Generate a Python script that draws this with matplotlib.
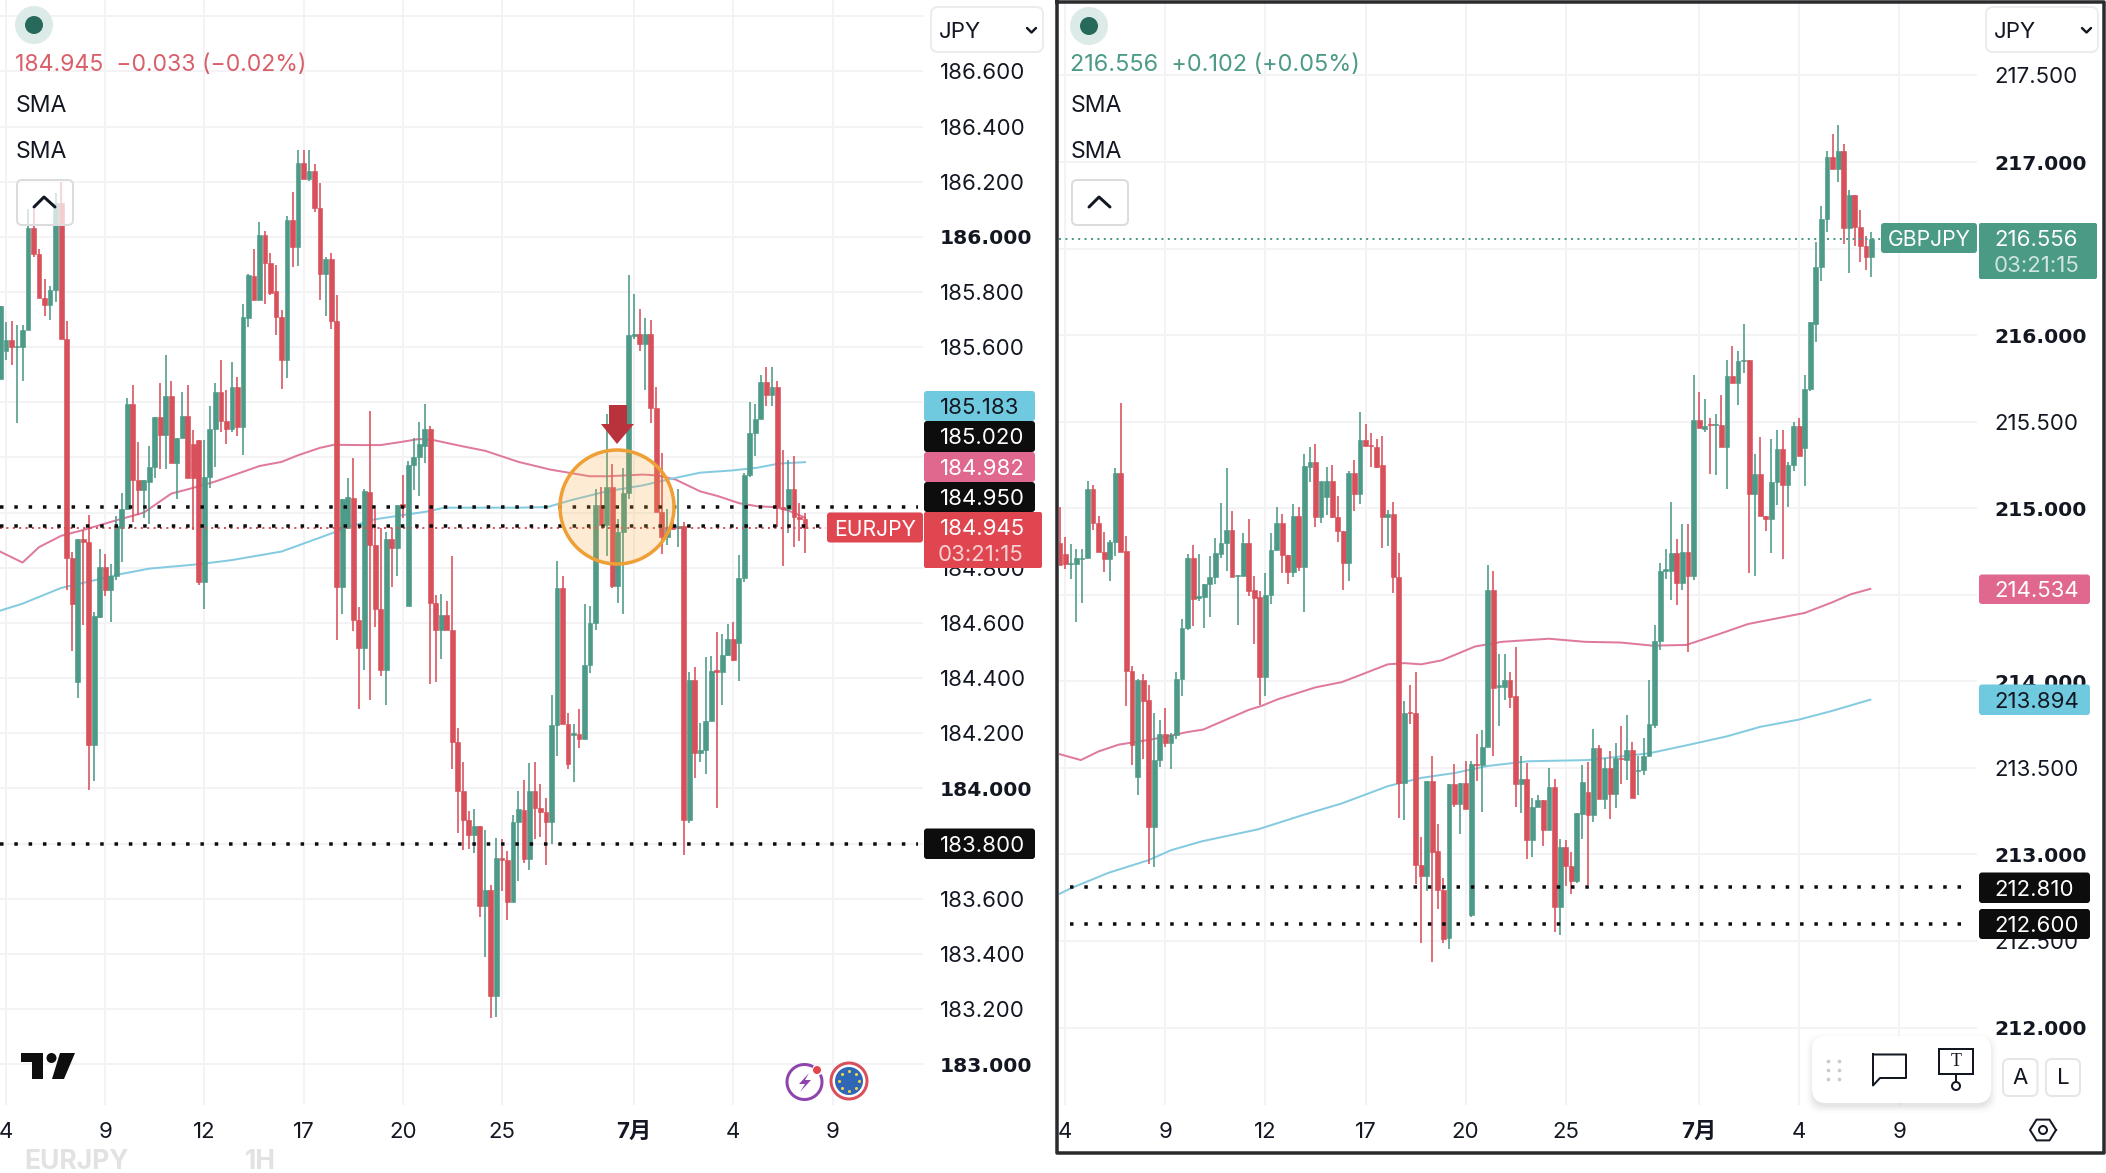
import matplotlib
matplotlib.use("Agg")
import matplotlib.pyplot as plt
from matplotlib.patches import Circle, FancyBboxPatch, Polygon, Rectangle
import numpy as np

plt.rcParams['font.family'] = ['Inter', 'Noto Sans CJK JP', 'DejaVu Sans']

W, H = 2106, 1173

GREEN = '#4c9a87'
RED = '#d8505a'
SMA_PINK = '#df7a9e'
SMA_BLUE = '#85cbe0'
TEXT = '#131722'
GRID = '#f3f3f5'
FS = 16

# EURJPY candles
eur_open = [185.485, 185.585, 185.627, 185.600, 185.602, 185.663, 186.033, 185.936, 185.777, 185.753,
            185.808, 186.121, 185.628, 184.836, 184.385, 184.903, 184.895, 184.156, 184.623, 184.802,
            184.719, 184.769, 184.945, 185.013, 185.395, 185.117, 185.083, 185.110, 185.166, 185.346,
            185.281, 185.423, 185.180, 185.270, 185.350, 185.249, 185.263, 184.750, 185.131, 185.305,
            185.437, 185.333, 185.305, 185.455, 185.312, 185.707, 185.857, 185.772, 186.006, 185.904,
            185.802, 185.710, 185.555, 186.061, 185.964, 186.266, 186.211, 186.237, 186.103, 185.867,
            185.918, 185.696, 184.732, 184.944, 185.052, 184.610, 184.509, 185.076, 184.883, 184.652,
            184.428, 184.903, 184.872, 185.030, 184.662, 185.173, 185.201, 185.242, 185.305, 184.673,
            184.576, 184.629, 184.576, 184.167, 183.991, 183.884, 183.832, 183.863, 183.575, 183.633,
            183.249, 183.747, 183.739, 183.588, 183.879,
            183.923, 183.744, 183.991, 183.930, 183.916, 183.880, 184.229, 184.726, 184.232, 184.195,
            184.196, 184.181, 184.447, 184.600, 185.027, 184.956, 185.092, 184.733, 184.931, 185.073,
            185.642, 185.648, 185.612, 185.648, 185.381, 185.003, 184.913, 184.948, 184.945, 184.950,
            183.885, 184.394, 184.128, 184.138, 184.246, 184.428, 184.422, 184.485, 184.543, 184.528,
            184.762, 185.138, 185.290, 185.340, 185.472, 185.426, 185.454, 185.020, 185.013, 185.087,
            184.984, 184.977]
eur_high = [185.750, 185.693, 185.696, 185.680, 185.680, 186.100, 186.100, 185.957, 185.846, 185.821,
            186.158, 186.200, 185.696, 184.856, 184.906, 184.937, 184.990, 184.638, 184.867, 184.851,
            184.813, 184.987, 185.070, 185.416, 185.464, 185.256, 185.117, 185.242, 185.346, 185.471,
            185.571, 185.478, 185.270, 185.437, 185.464, 185.298, 185.263, 185.263, 185.388, 185.471,
            185.554, 185.444, 185.548, 185.492, 185.756, 185.867, 185.957, 186.054, 186.022, 185.943,
            185.899, 185.735, 186.075, 186.161, 186.315, 186.314, 186.314, 186.265, 186.196, 185.926,
            185.943, 185.790, 185.048, 185.127, 185.197, 184.657, 185.086, 185.367, 185.012, 184.945,
            184.929, 184.945, 185.027, 185.138, 185.187, 185.270, 185.328, 185.395, 185.314, 184.700,
            184.704, 184.680, 184.844, 184.218, 184.097, 183.918, 183.926, 183.863, 183.851, 183.649,
            183.820, 183.817, 183.773, 183.902, 183.991,
            184.031, 184.091, 184.095, 184.017, 183.966, 184.339, 184.824, 184.769, 184.275, 184.232,
            184.289, 184.669, 184.662, 185.085, 185.092, 185.357, 185.178, 184.977, 185.163, 185.863,
            185.791, 185.740, 185.705, 185.697, 185.457, 185.218, 185.013, 184.970, 185.085, 184.966,
            184.421, 184.439, 184.239, 184.475, 184.482, 184.568, 184.561, 184.597, 184.604, 184.848,
            185.142, 185.400, 185.393, 185.500, 185.529, 185.529, 185.479, 185.228, 185.192, 185.206,
            185.034, 185.000]
eur_low = [185.485, 185.555, 185.534, 185.325, 185.478, 185.663, 185.926, 185.777, 185.714, 185.700,
           185.763, 185.628, 184.720, 184.498, 184.327, 184.592, 183.996, 184.027, 184.618, 184.696,
           184.602, 184.755, 184.820, 185.013, 184.965, 184.993, 184.979, 184.958, 185.124, 185.159,
           185.159, 185.180, 185.048, 185.270, 185.127, 184.937, 184.738, 184.652, 185.090, 185.166,
           185.291, 185.249, 185.291, 185.277, 185.208, 185.673, 185.772, 185.772, 185.756, 185.790,
           185.645, 185.450, 185.488, 185.892, 185.895, 186.211, 186.204, 186.089, 185.770, 185.714,
           185.666, 184.540, 184.634, 184.944, 184.571, 184.287, 184.428, 184.322, 184.584, 184.408,
           184.302, 184.732, 184.769, 184.981, 184.662, 185.083, 185.062, 185.180, 184.380, 184.385,
           184.470, 184.576, 184.069, 183.840, 183.778, 183.782, 183.767, 183.533, 183.389, 183.166,
           183.171, 183.627, 183.524, 183.588, 183.664,
           183.730, 183.704, 183.816, 183.823, 183.722, 183.797, 184.117, 184.232, 184.071, 184.024,
           184.146, 184.181, 184.418, 184.576, 184.956, 184.841, 184.726, 184.672, 184.633, 185.049,
           185.630, 185.586, 185.443, 185.324, 185.003, 184.851, 184.884, 184.941, 184.877, 183.758,
           183.873, 184.038, 184.095, 184.052, 184.246, 183.928, 184.303, 184.482, 184.461, 184.389,
           184.748, 185.128, 185.206, 185.340, 185.386, 185.386, 184.948, 184.808, 184.927, 184.874,
           184.898, 184.855]
eur_close = [185.750, 185.627, 185.602, 185.603, 185.663, 186.033, 185.936, 185.777, 185.753, 185.808,
             186.121, 185.628, 184.836, 184.668, 184.903, 184.895, 184.156, 184.626, 184.802, 184.719,
             184.769, 184.950, 185.015, 185.395, 185.117, 185.083, 185.117, 185.166, 185.346, 185.281,
             185.423, 185.180, 185.270, 185.350, 185.127, 185.127, 184.750, 185.131, 185.305, 185.437,
             185.333, 185.305, 185.455, 185.312, 185.710, 185.860, 185.772, 186.006, 185.904, 185.797,
             185.710, 185.555, 186.061, 185.964, 186.266, 186.211, 186.237, 186.103, 185.867, 185.918,
             185.696, 184.732, 185.048, 185.055, 184.610, 184.509, 185.079, 184.883, 184.652, 184.428,
             184.903, 184.872, 185.027, 185.020, 185.173, 185.201, 185.249, 185.305, 184.673, 184.576,
             184.629, 184.576, 184.167, 183.991, 183.884, 183.832, 183.863, 183.575, 183.633, 183.249,
             183.747, 183.739, 183.588, 183.879, 183.926,
             183.744, 183.991, 183.930, 183.916, 183.880, 184.229, 184.726, 184.232, 184.088, 184.200,
             184.181, 184.447, 184.600, 185.027, 184.956, 185.092, 184.733, 184.931, 185.073, 185.644,
             185.648, 185.612, 185.648, 185.381, 185.003, 184.913, 184.948, 184.941, 184.950, 183.885,
             184.394, 184.128, 184.138, 184.246, 184.425, 184.424, 184.485, 184.543, 184.465, 184.762,
             185.138, 185.290, 185.340, 185.472, 185.426, 185.454, 185.020, 185.013, 185.087, 184.984,
             184.977, 184.945]

# EURJPY moving averages, bar number and level
eur_pink_x = [0, 4, 7, 11, 15, 21, 26, 31, 35, 39, 47, 51, 54, 58, 60.5, 65, 69, 72.6, 76, 78.6, 83.5, 88, 94,
              99.8, 106.9, 110.2, 116.6, 119.2, 122.5, 127, 130.2, 134.1, 137.4, 140.6, 143.2, 146]
eur_pink = [184.858, 184.819, 184.875, 184.916, 184.937, 184.972, 185.000, 185.069, 185.090, 185.113, 185.169,
            185.184, 185.208, 185.235, 185.246, 185.245, 185.245, 185.256, 185.267, 185.263, 185.242, 185.224,
            185.184, 185.156, 185.132, 185.132, 185.138, 185.135, 185.120, 185.077, 185.060, 185.034, 185.023,
            185.020, 185.006, 184.982]
eur_blue_x = [0, 4, 11, 16, 22, 27, 36, 42, 51, 57.5, 63.5, 68, 72, 77.4, 80.5, 94, 99.2,
              103.7, 110, 116.6, 121.8, 127, 132.8, 137.4, 141.3, 146]
eur_blue = [184.645, 184.670, 184.727, 184.750, 184.778, 184.797, 184.813, 184.828, 184.859, 184.906, 184.950,
            184.976, 184.988, 185.004, 185.018, 185.018, 185.020, 185.046, 185.077, 185.099, 185.123, 185.145,
            185.153, 185.163, 185.178, 185.183]

# GBPJPY candles
gbp_open = [214.799, 214.735, 214.678, 214.678, 214.708, 214.710, 215.110, 214.916, 214.749, 214.708,
            214.806, 215.206, 214.754, 214.057, 213.447, 214.007, 213.892, 213.161, 213.543, 213.698,
            213.646, 213.687, 214.013, 214.308, 214.710, 214.484, 214.486, 214.560, 214.605, 214.738,
            214.801, 214.875, 214.607, 214.607, 214.801, 214.525, 214.486, 214.025, 214.498, 214.756,
            214.916, 214.731, 214.630, 214.955, 214.658, 215.240, 215.267, 214.948, 215.062, 215.160,
            214.948, 214.870, 214.685, 215.206, 215.080, 215.393, 215.366, 215.354, 215.247, 214.948,
            214.966, 214.605, 213.413, 213.824, 213.817, 212.940, 212.876, 213.424, 213.018, 212.796,
            212.515, 213.406, 213.294, 213.413, 212.652, 213.524, 213.515, 213.618, 214.527, 213.968,
            213.968, 214.007, 213.915, 213.406, 213.435, 213.086, 213.271, 213.317, 213.139, 213.390,
            212.698, 213.040, 212.933,
            212.846, 213.233, 213.360, 213.227, 213.616, 213.319, 213.498, 213.349, 213.555, 213.543,
            213.606, 213.482, 213.488, 213.570, 213.747,
            214.233, 214.640, 214.640, 214.742, 214.567, 214.747, 214.610, 215.512, 215.457, 215.485,
            215.478, 215.480, 215.352, 215.764, 215.725, 215.850, 215.859, 215.081, 215.195, 214.955,
            214.937, 215.149, 215.343, 215.135, 215.252, 215.473, 215.348, 215.686, 216.067, 216.392,
            216.668, 217.027, 216.958, 217.061, 216.620, 216.810, 216.622, 216.517, 216.451]
gbp_high = [215.007, 214.836, 214.795, 214.765, 214.765, 215.160, 215.133, 214.955, 214.863, 214.818,
            215.233, 215.606, 214.840, 214.087, 214.013, 214.041, 213.977, 213.817, 213.778, 213.847,
            213.703, 214.052, 214.361, 214.733, 214.788, 214.738, 214.562, 214.722, 214.829, 215.028,
            215.233, 214.984, 214.616, 214.858, 214.936, 214.607, 214.520, 214.623, 214.858, 215.005,
            214.966, 214.731, 215.023, 215.007, 215.315, 215.354, 215.370, 215.080, 215.240, 215.247,
            215.069, 214.870, 215.217, 215.281, 215.555, 215.485, 215.434, 215.400, 215.418, 214.989,
            215.035, 214.742, 213.886, 213.977, 214.052, 213.100, 213.424, 213.566, 213.173, 212.864,
            213.406, 213.520, 213.413, 213.538, 213.538, 213.698, 213.717, 214.674, 214.639, 214.155,
            214.160, 214.052, 214.201, 213.566, 213.527, 213.326, 213.344, 213.317, 213.497, 213.436,
            213.088, 213.086, 213.013,
            213.237, 213.514, 213.533, 213.722, 213.630, 213.559, 213.600, 213.641, 213.743, 213.808,
            213.651, 213.570, 213.671, 214.008, 214.323,
            214.685, 214.765, 215.033, 214.822, 214.909, 214.909, 215.770, 215.672, 215.633, 215.520,
            215.542, 215.656, 215.855, 215.937, 215.907, 216.067, 215.859, 215.314, 215.412, 214.955,
            215.398, 215.451, 215.451, 215.268, 215.500, 215.519, 215.770, 216.074, 216.536, 216.746,
            217.061, 217.159, 217.216, 217.102, 216.837, 216.810, 216.725, 216.570, 216.597]
gbp_low = [214.669, 214.651, 214.589, 214.345, 214.452, 214.710, 214.875, 214.749, 214.630, 214.582,
           214.726, 214.749, 213.858, 213.515, 213.344, 213.550, 212.944, 212.926, 213.504, 213.618,
           213.493, 213.664, 213.915, 214.299, 214.320, 214.463, 214.308, 214.372, 214.560, 214.715,
           214.635, 214.600, 214.326, 214.607, 214.493, 214.217, 213.865, 213.915, 214.445, 214.756,
           214.623, 214.560, 214.600, 214.635, 214.400, 215.153, 214.891, 214.913, 214.959, 214.943,
           214.806, 214.525, 214.578, 214.982, 215.023, 215.359, 215.240, 215.233, 214.772, 214.783,
           214.509, 213.212, 213.196, 213.751, 212.830, 212.487, 212.789, 212.380, 212.682, 212.487,
           212.453, 213.276, 213.116, 213.260, 212.636, 213.424, 213.246, 213.618, 213.568, 213.744,
           213.892, 213.847, 213.276, 213.241, 212.974, 212.985, 213.271, 213.047, 213.139, 212.551,
           212.533, 212.819, 212.773,
           212.836, 213.087, 212.826, 213.188, 213.319, 213.264, 213.207, 213.270, 213.406, 213.427,
           213.325, 213.345, 213.461, 213.570, 213.732,
           214.183, 214.589, 214.468, 214.439, 214.525, 214.171, 214.587, 215.462, 215.439, 215.195,
           215.192, 215.352, 215.112, 215.725, 215.599, 215.782, 214.628, 214.610, 214.955, 214.868,
           214.742, 215.017, 214.708, 215.005, 215.215, 215.302, 215.131, 215.679, 215.960, 216.314,
           216.597, 216.958, 216.883, 216.529, 216.357, 216.517, 216.421, 216.376, 216.337]
gbp_close = [214.669, 214.680, 214.685, 214.710, 214.712, 215.110, 214.913, 214.749, 214.708, 214.806,
             215.206, 214.749, 214.057, 213.630, 214.007, 213.886, 213.161, 213.543, 213.698, 213.646,
             213.687, 214.013, 214.310, 214.710, 214.475, 214.491, 214.562, 214.605, 214.742, 214.801,
             214.875, 214.600, 214.616, 214.801, 214.521, 214.482, 214.025, 214.498, 214.756, 214.916,
             214.731, 214.630, 214.955, 214.658, 215.245, 215.267, 214.948, 215.160, 215.160, 214.948,
             214.870, 214.685, 215.206, 215.080, 215.395, 215.359, 215.359, 215.240, 214.948, 214.966,
             214.605, 213.413, 213.817, 213.817, 212.940, 212.876, 213.424, 213.013, 212.796, 212.510,
             213.406, 213.294, 213.413, 213.260, 213.520, 213.515, 213.618, 214.527, 213.961, 213.977,
             214.007, 213.911, 213.406, 213.435, 213.086, 213.271, 213.317, 213.139, 213.390, 212.698,
             213.040, 212.933, 212.848,
             213.237, 213.417, 213.227, 213.616, 213.319, 213.498, 213.349, 213.555, 213.549, 213.606,
             213.325, 213.488, 213.570, 213.751, 214.232,
             214.640, 214.647, 214.742, 214.567, 214.747, 214.610, 215.512, 215.462, 215.473, 215.478,
             215.485, 215.352, 215.764, 215.725, 215.850, 215.859, 215.081, 215.195, 214.955, 214.937,
             215.149, 215.343, 215.135, 215.252, 215.473, 215.302, 215.686, 216.074, 216.392, 216.668,
             217.027, 216.958, 217.061, 216.620, 216.810, 216.622, 216.517, 216.451, 216.556]

# GBPJPY moving averages, bar number and level
gbp_pink_x = [0, 3.8, 7, 10.6, 16.5, 23, 25.8, 34, 36.3, 39.3, 46, 50.7, 53, 59, 62, 65, 68.7, 74.7, 79.5, 88,
              94.5, 100.9, 106.6, 112.7, 118.7, 123.8, 134, 139, 142.3, 145.8]
gbp_pink = [213.579, 213.545, 213.595, 213.634, 213.664, 213.707, 213.721, 213.835, 213.858, 213.897, 213.965,
            213.995, 214.023, 214.098, 214.105, 214.098, 214.121, 214.201, 214.228, 214.246, 214.228, 214.224,
            214.206, 214.210, 214.274, 214.331, 214.395, 214.457, 214.503, 214.534]
gbp_blue_x = [0, 2.2, 8.8, 16, 20, 25.5, 35.7, 44, 50.7, 59, 65, 71, 77, 84.3, 95, 106, 113.7, 120, 126, 133,
              138.8, 145.8]
gbp_blue = [212.773, 212.807, 212.894, 212.967, 213.024, 213.075, 213.145, 213.230, 213.294, 213.394, 213.442,
            213.470, 213.511, 213.538, 213.545, 213.584, 213.637, 213.682, 213.737, 213.779, 213.828, 213.894]

# axis ticks, the same bar numbers on both charts
date_bars = [1, 19, 37, 55, 73, 91, 115, 133, 151]
date_labels = ['4', '9', '12', '17', '20', '25', '7月', '4', '9']
eur_ticks = [183.0, 183.2, 183.4, 183.6, 183.8, 184.0, 184.2, 184.4, 184.6, 184.8, 185.0, 185.2, 185.4,
             185.6, 185.8, 186.0, 186.2, 186.4, 186.6, 186.8]
gbp_ticks = [212.0, 212.5, 213.0, 213.5, 214.0, 214.5, 215.0, 215.5, 216.0, 216.5, 217.0, 217.5]
eur_bold = [183.0, 184.0, 186.0]
gbp_bold = [212.0, 213.0, 214.0, 215.0, 216.0, 217.0]
# grid levels whose price text sits under a tag or the currency box
eur_unlabelled = [183.8, 185.0, 185.2, 185.4, 186.8]
gbp_unlabelled = [214.5, 216.5]

eur_levels = [185.02, 184.95, 183.80]
gbp_levels = [212.81, 212.60]
eur_last = 184.945
gbp_last = 216.556


def px(v):
    return v * 72 / 100


fig = plt.figure(figsize=(W / 100, H / 100), dpi=100, facecolor='white')


def make_axes(x0, x1, y0, y1):
    return fig.add_axes([x0 / W, 1 - y1 / H, (x1 - x0) / W, (y1 - y0) / H])


def draw_chart(ax, opens, highs, lows, closes, bar_px, ticks, bold, unlabelled, levels, level_span, tick_pad):
    opens, highs, lows, closes = map(np.array, (opens, highs, lows, closes))
    bars = np.arange(len(opens))
    up = closes >= opens
    colors = np.where(up, GREEN, RED)

    ax.vlines(bars, lows, highs, colors=colors, linewidth=px(1.6), zorder=3)
    ax.bar(bars, np.abs(closes - opens), bottom=np.minimum(opens, closes), width=4.8 / bar_px,
           color=colors, edgecolor=colors, linewidth=px(0.6), zorder=4)

    for lev in levels:
        ax.axhline(lev, level_span[0], level_span[1], color='#0c0c0c', linewidth=px(3.5),
                   linestyle=(0, (1, 3.09)), dash_capstyle='butt', zorder=6)

    ax.set_xticks(date_bars)
    ax.set_xticklabels(date_labels, fontsize=FS, color=TEXT)
    for lab in ax.get_xticklabels():
        if lab.get_text() == '7月':
            lab.set_fontweight('bold')
    ax.yaxis.tick_right()
    ax.set_yticks(ticks)
    ax.set_yticklabels(['' if t in unlabelled else '%.3f' % t for t in ticks], fontsize=FS, color=TEXT)
    for t, lab in zip(ticks, ax.get_yticklabels()):
        if t in bold:
            lab.set_fontfamily('DejaVu Sans')
            lab.set_fontweight('bold')
            lab.set_fontsize(14.6)
    ax.tick_params(axis='y', length=0, pad=px(tick_pad))
    ax.tick_params(axis='x', length=0, pad=px(17))
    ax.grid(True, color=GRID, linewidth=px(2), zorder=0)
    ax.set_axisbelow(True)
    for s in ax.spines.values():
        s.set_visible(False)


# left chart
ax1 = make_axes(0, 923, 0, 1105)
ax1.set_xlim((0 - 0.5) / 5.51, (923 - 0.5) / 5.51)
ax1.set_ylim(183.8 + (843.6 - 1105) / 275.8, 183.8 + 843.6 / 275.8)
ax1.plot(eur_pink_x, eur_pink, color=SMA_PINK, linewidth=px(2), zorder=2)
ax1.plot(eur_blue_x, eur_blue, color=SMA_BLUE, linewidth=px(2), zorder=2)
draw_chart(ax1, eur_open, eur_high, eur_low, eur_close, 5.51, eur_ticks, eur_bold, eur_unlabelled,
           eur_levels, (0, 0.995), 17)
ax1.axhline(eur_last, 0, 0.895, color=RED, linewidth=px(2), linestyle=(0, (1, 2.2)), zorder=5)

# right chart
ax2 = make_axes(1058.5, 1977, 3, 1105)
ax2.set_xlim((1058.5 - 1059.7) / 5.56, (1977 - 1059.7) / 5.56)
ax2.set_ylim(217 - (1105 - 162) / 173.1, 217 + (162 - 3) / 173.1)
ax2.plot(gbp_pink_x, gbp_pink, color=SMA_PINK, linewidth=px(2), zorder=2)
ax2.plot(gbp_blue_x, gbp_blue, color=SMA_BLUE, linewidth=px(2), zorder=2)
draw_chart(ax2, gbp_open, gbp_high, gbp_low, gbp_close, 5.56, gbp_ticks, gbp_bold, gbp_unlabelled,
           gbp_levels, (0.012, 0.993), 17)
ax2.axhline(gbp_last, 0, 0.895, color=GREEN, linewidth=px(2), linestyle=(0, (1, 2.2)), zorder=5)

# overlay in screen pixels for tags, buttons and icons
ov = fig.add_axes([0, 0, 1, 1], zorder=10)
ov.set_xlim(0, W)
ov.set_ylim(H, 0)
ov.axis('off')
ov.patch.set_alpha(0)


def tag(x0, x1, y0, y1, color, label, tcolor='white', tx=None, ha='left', size=FS):
    ov.add_patch(FancyBboxPatch((x0 + 2, y0 + 2), x1 - x0 - 4, y1 - y0 - 4, boxstyle='round,pad=2,rounding_size=3',
                                facecolor=color, edgecolor='none', zorder=3))
    ov.text(tx if tx is not None else x0 + 16, (y0 + y1) / 2, label, color=tcolor, fontsize=size, ha=ha,
            va='center_baseline', zorder=4)


def round_box(x0, y0, x1, y1, face='white', edge='#e2e3e6', lw=2, rs=6, z=3):
    ov.add_patch(FancyBboxPatch((x0 + rs, y0 + rs), x1 - x0 - 2 * rs, y1 - y0 - 2 * rs,
                                boxstyle='round,pad=%d,rounding_size=%d' % (rs, rs),
                                facecolor=face, edgecolor=edge, linewidth=px(lw), zorder=z))


# highlight circle and arrow over the left chart
ov.add_patch(Circle((617, 507), 57, facecolor='#f7a83c', edgecolor='none', alpha=0.22, zorder=1))
ov.add_patch(Circle((617, 507), 57, facecolor='none', edgecolor='#ee9f35', linewidth=px(3.5), zorder=1))
ov.add_patch(Polygon([(609, 405), (627, 405), (627, 424), (634, 424), (617, 444), (601, 424), (609, 424)],
                     closed=True, facecolor='#b9333c', edgecolor='none', zorder=2))

# left price tags
tag(924, 1035, 391, 421, '#6fcadf', '185.183', TEXT)
tag(924, 1035, 421, 452, '#0d0d0d', '185.020')
tag(924, 1035, 452, 482, '#e0688f', '184.982')
tag(924, 1035, 482, 512, '#0d0d0d', '184.950')
tag(827, 923, 512.5, 542.5, '#df4650', 'EURJPY', tx=875, ha='center', size=15.2)
ov.add_patch(FancyBboxPatch((926, 514), 114, 52, boxstyle='round,pad=2,rounding_size=2',
                            facecolor='#df4650', edgecolor='none', zorder=3))
ov.text(940, 527, '184.945', color='white', fontsize=FS, va='center_baseline', zorder=4)
ov.text(938, 553, '03:21:15', color='white', alpha=0.75, fontsize=FS, va='center_baseline', zorder=4)
tag(924, 1035, 828.5, 859, '#0d0d0d', '183.800')

# right price tags
tag(1881, 1977, 223, 253, '#4a9a86', 'GBPJPY', tx=1929, ha='center', size=15.2)
ov.add_patch(FancyBboxPatch((1981, 225), 114, 52, boxstyle='round,pad=2,rounding_size=2',
                            facecolor='#4a9a86', edgecolor='none', zorder=3))
ov.text(1994, 238, '216.556', color='white', fontsize=FS, va='center_baseline', zorder=4)
ov.text(1994, 264, '03:21:15', color='white', alpha=0.75, fontsize=FS, va='center_baseline', zorder=4)
tag(1979, 2090, 574.5, 604, '#e0688f', '214.534', tx=1994)
tag(1979, 2090, 684.5, 715, '#6fcadf', '213.894', TEXT, tx=1994)
tag(1979, 2090, 872.5, 903, '#0d0d0d', '212.810', tx=1994)
tag(1979, 2090, 909, 939, '#0d0d0d', '212.600', tx=1994)

# legend block of each chart
for dx, cy, head, col, head_size in [(0, 25, '184.945  −0.033 (−0.02%)', '#d9606a', 16.6),
                                     (1055, 26, '216.556  +0.102 (+0.05%)', GREEN, 16.9)]:
    ov.add_patch(Circle((34 + dx, cy), 19, facecolor='#dcebe8', edgecolor='none', zorder=3))
    ov.add_patch(Circle((34 + dx, cy), 9, facecolor='#27695a', edgecolor='none', zorder=4))
    ov.text(16 + dx - 1, 63, head, color=col, fontsize=head_size, va='center_baseline', zorder=4)
    ov.text(16 + dx, 104, 'SMA', color=TEXT, fontsize=16.6, va='center_baseline', zorder=4)
    ov.text(16 + dx, 150, 'SMA', color=TEXT, fontsize=16.6, va='center_baseline', zorder=4)
    round_box(17 + dx, 180, 73 + dx, 225, face=(1, 1, 1, 0.72), edge='#dcdcdf', lw=2, rs=5)
    ov.plot(np.array([34, 44, 55]) + dx, [207, 197, 207], color='#131722', linewidth=px(3),
            solid_capstyle='round', zorder=4)

# currency selectors
for x0, x1 in [(931, 1043), (1986, 2098)]:
    round_box(x0, 7, x1, 52, face='white', edge='#ececee', lw=2, rs=7)
    ov.text(x0 + 8, 29.5, 'JPY', color=TEXT, fontsize=FS, va='center_baseline', zorder=4)
    ov.plot(np.array([96, 100.5, 105]) + x0, [28, 32.5, 28], color=TEXT, linewidth=px(2.4),
            solid_capstyle='round', zorder=4)

# logo
ov.add_patch(Polygon([(21, 1053), (43, 1053), (43, 1079), (32, 1079), (32, 1062), (21, 1062)],
                     facecolor='#0e0e0e', edgecolor='none', zorder=3))
ov.add_patch(Circle((51.5, 1058), 5, facecolor='#0e0e0e', edgecolor='none', zorder=3))
ov.add_patch(Polygon([(60, 1053), (75, 1053), (64, 1079), (52, 1079)],
                     facecolor='#0e0e0e', edgecolor='none', zorder=3))

# event badges
theta = np.radians(np.linspace(-20, 295, 60))
ov.plot(804.5 + 17.5 * np.cos(theta), 1082 + 17.5 * np.sin(theta), color='#8e44ad', linewidth=px(3), zorder=3)
ov.add_patch(Polygon([(809, 1073), (799, 1084), (805, 1084), (800, 1092), (811, 1080), (805, 1080)],
                     facecolor='#8e44ad', edgecolor='none', zorder=3))
ov.add_patch(Circle((817, 1070), 4.5, facecolor='#e0474c', edgecolor='white', linewidth=px(1), zorder=4))
ov.add_patch(Circle((849, 1081), 18, facecolor='white', edgecolor='#d9505a', linewidth=px(3), zorder=3))
ov.add_patch(Circle((849, 1081), 14, facecolor='#2f66b5', edgecolor='none', zorder=4))
star_angle = np.radians(np.arange(0, 360, 45))
ov.scatter(849 + 10 * np.cos(star_angle), 1081 + 10 * np.sin(star_angle), s=5, color='#e8d44d',
           linewidths=0, zorder=5)

# watermark text along the bottom of the left chart
ov.text(24, 1169, 'EURJPY', color='#e2e2e4', fontsize=19, fontweight='bold', va='baseline', zorder=3)
ov.text(245, 1169, '1H', color='#e2e2e4', fontsize=19, fontweight='bold', va='baseline', zorder=3)

# drawing toolbar on the right chart, with a soft shadow
for grow, shade in [(6, 0.012), (4, 0.02), (2, 0.03), (0, 0.04)]:
    ov.add_patch(FancyBboxPatch((1812 - grow, 1040 - grow), 179 + 2 * grow, 67 + 2 * grow,
                                boxstyle='round,pad=0,rounding_size=15', facecolor='black', alpha=shade,
                                edgecolor='none', zorder=2))
round_box(1812, 1036, 1991, 1103, face='white', edge='none', lw=0, rs=14, z=3)
for dot_x in (1828, 1839):
    ov.scatter([dot_x] * 3, [1061, 1070, 1079], s=7, color='#c9cace', linewidths=0, zorder=4)
ov.plot([1873, 1906, 1906, 1880, 1873, 1873], [1054.5, 1054.5, 1078, 1078, 1085.5, 1054.5],
        color=TEXT, linewidth=px(2), zorder=4)
ov.add_patch(Rectangle((1939, 1049), 34, 25, facecolor='none', edgecolor=TEXT, linewidth=px(2), zorder=4))
ov.text(1956, 1061.5, 'T', color=TEXT, fontsize=13, family='Liberation Serif', ha='center', va='center', zorder=5)
ov.plot([1956, 1956], [1074, 1082], color=TEXT, linewidth=px(2), zorder=4)
ov.add_patch(Circle((1956, 1086), 4, facecolor='white', edgecolor=TEXT, linewidth=px(2), zorder=4))
for x0, x1, label in [(2003, 2037.5, 'A'), (2046, 2080, 'L')]:
    round_box(x0, 1059, x1, 1096, face='white', edge='#e6e6e9', lw=2, rs=6)
    ov.text((x0 + x1) / 2, 1078, label, color=TEXT, fontsize=FS, ha='center', va='center', zorder=4)
hex_a = np.radians(np.arange(0, 420, 60))
ov.plot(2043 + 13 * np.cos(hex_a), 1130 + 12 * np.sin(hex_a), color=TEXT, linewidth=px(2), zorder=4)
ov.add_patch(Circle((2043, 1130), 4, facecolor='none', edgecolor=TEXT, linewidth=px(2), zorder=4))

# frame around the right chart
ov.plot([1056.8, 1056.8, 2103.5, 2103.5, 1056.8], [1.5, 1152.5, 1152.5, 1.5, 1.5], color='#2b2b2d',
        linewidth=px(3.5), zorder=6, clip_on=False)

fig.savefig('out.png', dpi=100)
